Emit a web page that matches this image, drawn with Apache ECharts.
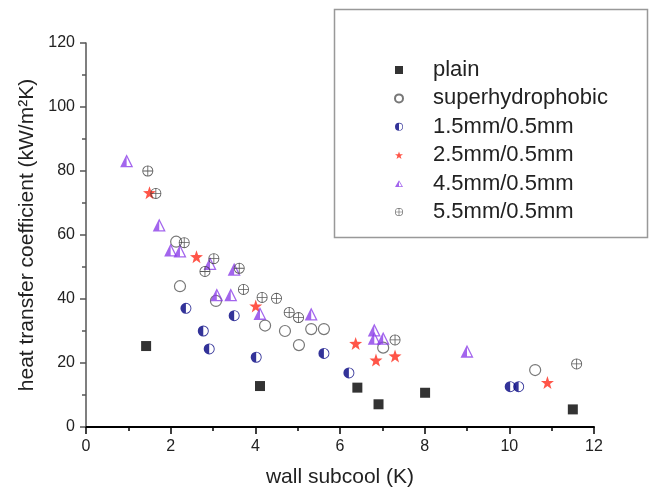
<!DOCTYPE html>
<html>
<head>
<meta charset="utf-8">
<script src="https://cdn.jsdelivr.net/npm/echarts@6/dist/echarts.min.js"></script>
<style>html,body{margin:0;padding:0;background:#fff;}#c{width:652px;height:494px;}</style>
</head>
<body>
<div id="c"></div>
<script>
// ---- data (wall subcool K, heat transfer coefficient kW/m2K) ----
var plainX = [1.42, 4.11, 6.41, 6.91, 8.01, 11.5];
var plainY = [25.3, 12.8, 12.3, 7.1, 10.7, 5.5];

var superX = [2.13, 2.22, 3.07, 4.23, 4.7, 5.03, 5.32, 5.62, 7.02, 10.61];
var superY = [57.9, 44.0, 39.4, 31.7, 30.0, 25.6, 30.6, 30.6, 24.8, 17.8];

var s15X = [2.36, 2.77, 2.91, 3.5, 4.02, 5.62, 6.21, 10.02, 10.22];
var s15Y = [37.1, 30.0, 24.4, 34.8, 21.8, 23.0, 16.9, 12.6, 12.6];

var s25X = [1.5, 2.61, 4.01, 6.37, 6.85, 7.3, 10.9];
var s25Y = [73.2, 53.2, 37.8, 26.1, 20.9, 22.2, 13.9];

var s45X = [0.96, 1.73, 2.0, 2.22, 2.93, 3.09, 3.42, 3.5, 4.11, 5.32, 6.81, 6.81, 7.02, 9.0];
var s45Y = [83.2, 63.1, 55.3, 55.0, 51.1, 41.3, 41.3, 49.3, 35.5, 35.3, 30.3, 27.7, 27.7, 23.7];

var s55X = [1.46, 1.65, 2.32, 2.81, 3.02, 3.62, 3.72, 4.16, 4.5, 4.8, 5.02, 7.3, 11.59];
var s55Y = [80.0, 73.0, 57.6, 48.6, 52.6, 49.6, 43.0, 40.5, 40.2, 35.8, 34.2, 27.2, 19.7];

var seriesNames = ['plain', 'superhydrophobic', '1.5mm/0.5mm', '2.5mm/0.5mm', '4.5mm/0.5mm', '5.5mm/0.5mm'];
var xTitle = 'wall subcool (K)';
var yTitle = 'heat transfer coefficient (kW/m\u00B2K)';

function pairs(xs, ys) { return xs.map(function (x, i) { return [x, ys[i]]; }); }

var halfCircle = 'path://M0,-10A10,10,0,1,1,0,10A10,10,0,1,1,0,-10ZM0,-8.4L0,8.4A8.4,8.4,0,0,0,0,-8.4Z';
var crossCircle = 'path://M0,-10A10,10,0,1,1,0,10A10,10,0,1,1,0,-10ZM0,-8.5A8.5,8.5,0,1,0,0,8.5A8.5,8.5,0,1,0,0,-8.5Z' +
  'M-0.75,-9L0.75,-9L0.75,9L-0.75,9ZM-9,-0.75L9,-0.75L9,0.75L-9,0.75Z';
var halfTri = 'path://M0,0L10,17L-10,17ZM0,3.6L0,15.3L6.8,15.3Z';
var star = 'path://M0,-10L2.35,-3.24L9.51,-3.09L3.8,1.24L5.88,8.09L0,4L-5.88,8.09L-3.8,1.24L-9.51,-3.09L-2.35,-3.24Z';

var FONT = 'Liberation Sans, Arial, sans-serif';
var chart = echarts.init(document.getElementById('c'), null, { renderer: 'canvas' });
chart.setOption({
  animation: false,
  backgroundColor: '#fff',
  grid: { left: 86, right: 58, top: 43, bottom: 67, containLabel: false },
  xAxis: {
    type: 'value', min: 0, max: 12, interval: 2,
    name: xTitle, nameLocation: 'middle', nameGap: 40,
    nameTextStyle: { fontFamily: FONT, fontSize: 21, color: '#222' },
    axisLine: { show: true, onZero: false, lineStyle: { color: '#000', width: 2 } },
    axisTick: { show: true, inside: false, length: 7, lineStyle: { color: '#000', width: 1.5 } },
    minorTick: { show: true, splitNumber: 2, length: 4, lineStyle: { color: '#000', width: 1.5 } },
    axisLabel: { fontFamily: FONT, fontSize: 16, color: '#222', margin: 12 },
    splitLine: { show: false }
  },
  yAxis: {
    type: 'value', min: 0, max: 120, interval: 20,
    name: yTitle, nameLocation: 'middle', nameGap: 46,
    nameTextStyle: { fontFamily: FONT, fontSize: 21, color: '#222' },
    axisLine: { show: true, onZero: false, lineStyle: { color: '#555', width: 1.5 } },
    axisTick: { show: true, inside: false, length: 6, lineStyle: { color: '#555', width: 1.5 } },
    minorTick: { show: true, splitNumber: 2, length: 4, lineStyle: { color: '#555', width: 1.5 } },
    axisLabel: { fontFamily: FONT, fontSize: 16, color: '#222', margin: 11 },
    splitLine: { show: false }
  },
  legend: {
    orient: 'vertical', left: 394, top: 59, padding: 0,
    itemWidth: 8, itemHeight: 8, itemGap: 6.4,
    data: seriesNames,
    textStyle: { fontFamily: FONT, fontSize: 22, color: '#222', lineHeight: 22, padding: [0, 0, 0, 25] }
  },
  graphic: [{
    type: 'rect', left: 332, top: 7, z: 0,
    shape: { width: 313, height: 228 },
    style: { fill: 'none', stroke: '#999', lineWidth: 1.5 }
  }],
  series: [
    { name: seriesNames[0], type: 'scatter', symbol: 'rect', symbolSize: 10,
      itemStyle: { color: '#000' }, data: pairs(plainX, plainY) },
    { name: seriesNames[1], type: 'scatter', symbol: 'circle', symbolSize: 11,
      itemStyle: { color: '#fff', borderColor: '#555', borderWidth: 1.2 }, data: pairs(superX, superY) },
    { name: seriesNames[2], type: 'scatter', symbol: halfCircle, symbolSize: 11,
      itemStyle: { color: '#000080' }, data: pairs(s15X, s15Y) },
    { name: seriesNames[3], type: 'scatter', symbol: star, symbolSize: 13,
      itemStyle: { color: '#ff2a1a' }, data: pairs(s25X, s25Y) },
    { name: seriesNames[4], type: 'scatter', symbol: halfTri, symbolSize: 13,
      itemStyle: { color: '#8c3ee8' }, data: pairs(s45X, s45Y) },
    { name: seriesNames[5], type: 'scatter', symbol: crossCircle, symbolSize: 11,
      itemStyle: { color: '#333' }, data: pairs(s55X, s55Y) }
  ]
});
</script>
</body>
</html>
